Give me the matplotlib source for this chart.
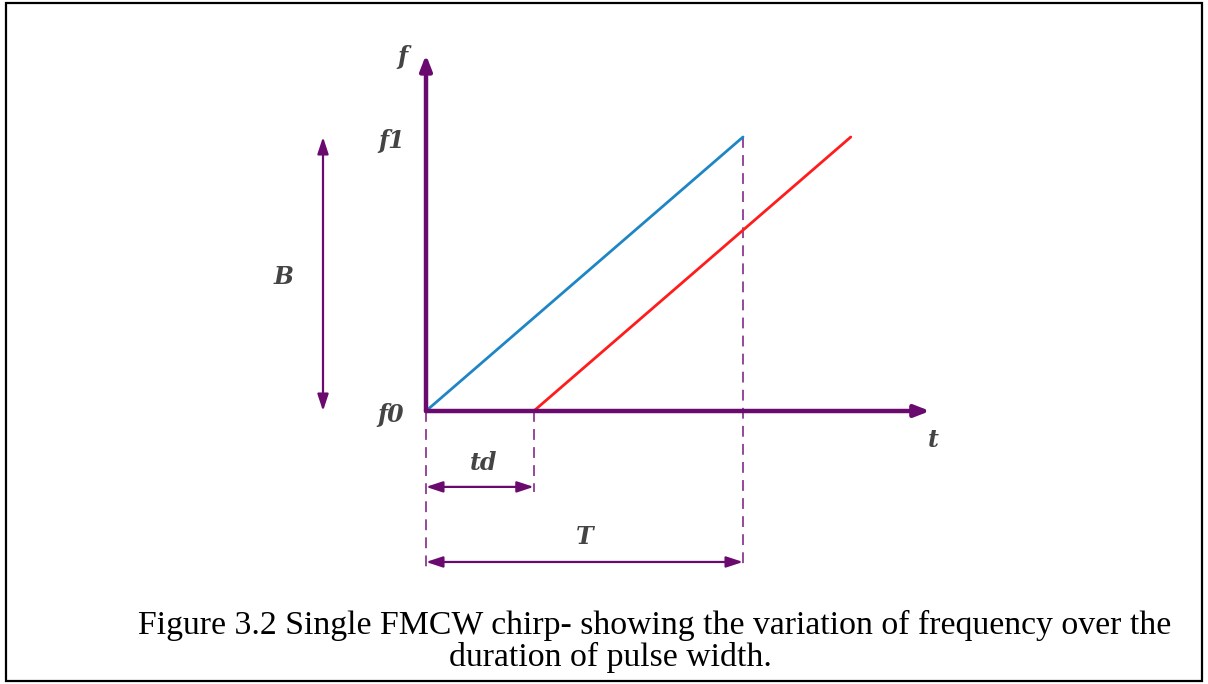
import matplotlib
matplotlib.use("Agg")
import matplotlib.pyplot as plt
from matplotlib.patches import Rectangle

# Data (normalized: T = 1 chirp duration, B = 1 bandwidth)
T = 1.0
td = 0.34
f0 = 0.0
f1 = 1.0
tx_t = [0.0, T]
tx_f = [f0, f1]
rx_t = [td, td + T]
rx_f = [f0, f1]
t_axis_end = 1.59
f_axis_end = 1.30

PURPLE = "#6b0a6e"
DASH = "#8e3a92"
TXT = "#444444"

fig = plt.figure(figsize=(12.08, 6.84), dpi=100)
ax = fig.add_axes([0, 0, 1, 1])
ax.set_xlim(-426 / 317, (1208 - 426) / 317)
ax.set_ylim((411 - 684) / 274, 411 / 274)
ax.axis("off")

# border
fig.patches.append(Rectangle((0.005, 0.004), 0.99, 0.992, transform=fig.transFigure,
                             fill=False, edgecolor="black", linewidth=1.6))

# axes arrows
for xy in [(t_axis_end, 0), (0, f_axis_end)]:
    ax.annotate("", xy=xy, xytext=(0, 0),
                arrowprops=dict(arrowstyle="-|>,head_length=0.9,head_width=0.35", color=PURPLE, lw=3.2,
                                shrinkA=0, shrinkB=0))

y_td = -0.277
y_T = -0.551

# dashed lines
for x, ytop, ybot in [(0, 0, y_T - 0.02), (td, 0, y_td - 0.02), (T, f1, y_T - 0.02)]:
    ax.plot([x, x], [ytop, ybot], color=DASH, lw=1.3, ls=(0, (6, 4)))

# chirps
ax.plot(tx_t, tx_f, color="#1f86c6", lw=2.0, solid_capstyle="round")
ax.plot(rx_t, rx_f, color="#ff1c1c", lw=2.0, solid_capstyle="round")

# double arrows
def dbl(p1, p2):
    ax.annotate("", xy=p2, xytext=p1,
                arrowprops=dict(arrowstyle="<|-|>,head_length=1.0,head_width=0.33", color=PURPLE, lw=1.6,
                                shrinkA=0, shrinkB=0))

bx = (323 - 426) / 317
dbl((bx, f0), (bx, f1))
dbl((0, y_td), (td, y_td))
dbl((0, y_T), (T, y_T))

lab = dict(color=TXT, fontstyle="italic", fontweight="bold", family="DejaVu Serif",
           ha="center", va="center")
def px(x, y):
    return ((x - 426) / 317, (411 - y) / 274)

ax.text(*px(402, 57), "f", fontsize=17, **lab)
ax.text(*px(392, 141), "f1", fontsize=17, **lab)
ax.text(*px(391, 415), "f0", fontsize=17, **lab)
ax.text(*px(933, 440), "t", fontsize=17, **lab)
ax.text(*px(484, 463), "td", fontsize=17, **lab)
ax.text(*px(585, 537), "T", fontsize=17, **lab)
ax.text(*px(284, 277), "B", fontsize=17, **lab)

cap = dict(family="Liberation Serif", fontsize=24.3, color="black", ha="center", va="center")
ax.text(*px(655, 625), "Figure 3.2 Single FMCW chirp- showing the variation of frequency over the", **cap)
ax.text(*px(610, 657), "duration of pulse width.", **cap)

fig.savefig("out.png", dpi=100)
